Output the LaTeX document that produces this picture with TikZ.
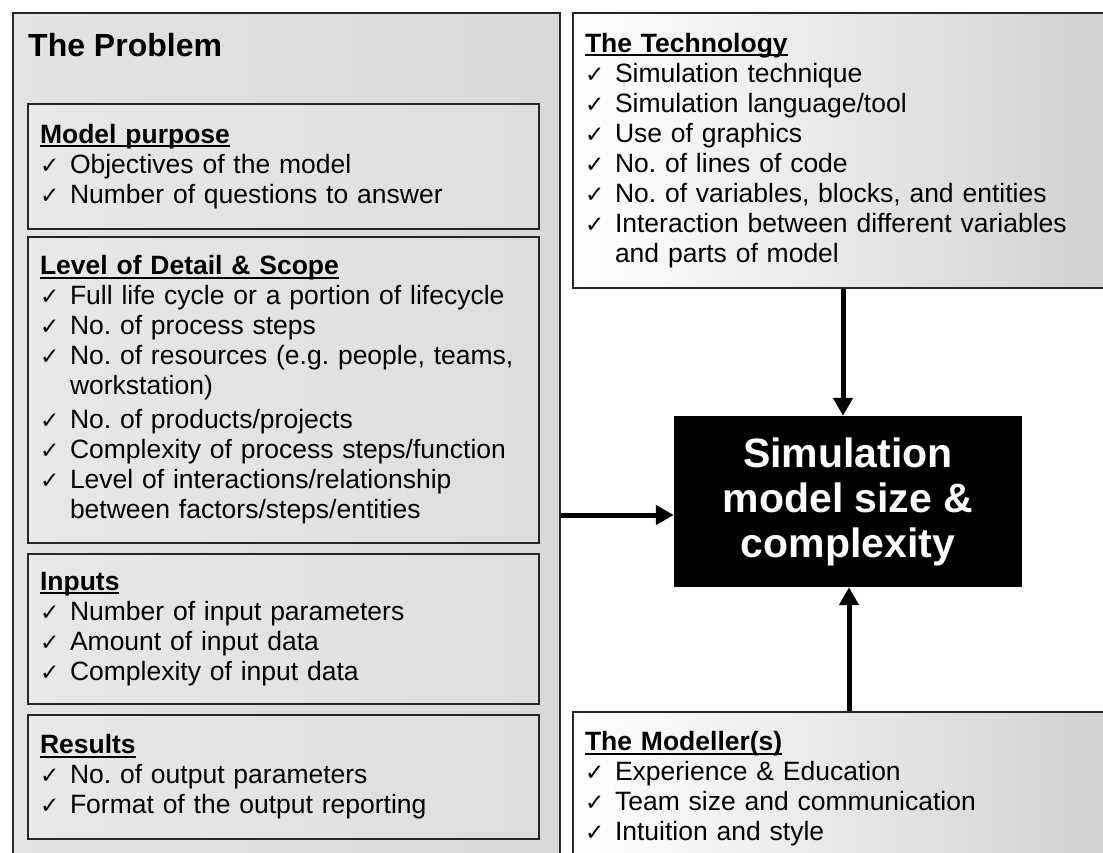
\documentclass[tikz,border=0pt]{standalone}
\usepackage{fontspec}
\setmainfont{Liberation Sans}
\newfontfamily\checkfont{DejaVu Sans}
\usetikzlibrary{positioning, arrows.meta}
\frenchspacing
\newcommand{\chk}{\makebox[30pt][l]{\checkfont\fontsize{23}{30}\selectfont ✓}}
\newcommand{\ind}{\hspace*{30pt}}
\newcommand{\hdr}[1]{\setbox0\hbox{\bfseries #1}\rlap{\rule[-4pt]{\wd0}{2.2pt}}\box0}

\begin{document}
\begin{tikzpicture}[x=1pt, y=-1pt,
    every node/.style={font=\fontsize{26.5}{30}\selectfont},
    outer/.style={draw=black!85, line width=2pt, anchor=north west,
                  left color=gray!22, middle color=gray!6, right color=gray!30},
    panel/.style={draw=black!85, line width=2pt, anchor=north west,
                  left color=gray!18, middle color=gray!3, right color=gray!26,
                  align=left, text width=487pt, inner xsep=12pt, minimum width=511pt},
    sidepanel/.style={panel, left color=white, middle color=gray!6, right color=gray!38,
                      text width=536pt, minimum width=560pt},
    core/.style={fill=black, text=white, align=center,
                 font=\fontsize{41}{45}\selectfont\bfseries,
                 minimum width=348pt, minimum height=171pt},
    flow/.style={-{Triangle[length=18pt,width=19pt]}, line width=5pt},
  ]
  \fill[white] (0,0) rectangle (1103,852);
  \useasboundingbox (0,0) rectangle (1103,852);
  \clip (0,0) rectangle (1103,852);

  % The Problem
  \node[outer, minimum width=547pt, minimum height=900pt] (problem) at (12,12) {};
  \node[anchor=base west, inner sep=0pt, font=\fontsize{32}{36}\selectfont\bfseries]
    (ptitle) at (28,56) {The Problem};

  \node[panel, minimum height=125pt] (purpose) at (27,103) {\hdr{Model purpose}\\
    \chk Objectives of the model\\
    \chk Number of questions to answer};
  \node[panel, minimum height=306pt] (detail) at (27,236) {\hdr{Level of Detail \& Scope}\\
    \chk Full life cycle or a portion of lifecycle\\
    \chk No. of process steps\\
    \chk No. of resources (e.g. people, teams,\\
    \ind workstation)\\[4pt]
    \chk No. of products/projects\\
    \chk Complexity of process steps/function\\
    \chk Level of interactions/relationship\\
    \ind between factors/steps/entities};
  \node[panel, minimum height=150pt] (inputs) at (27,553) {\hdr{Inputs}\\
    \chk Number of input parameters\\
    \chk Amount of input data\\
    \chk Complexity of input data};
  \node[panel, minimum height=124pt] (results) at (27,714) {\hdr{Results}\\
    \chk No. of output parameters\\
    \chk Format of the output reporting};

  % Right column
  \node[sidepanel, minimum height=275pt] (tech) at (572,12) {\hdr{The Technology}\\
    \chk Simulation technique\\
    \chk Simulation language/tool\\
    \chk Use of graphics\\
    \chk No. of lines of code\\
    \chk No. of variables, blocks, and entities\\
    \chk Interaction between different variables\\
    \ind and parts of model};
  \node[sidepanel, minimum height=154pt] (modeller) at (572,711) {\hdr{The Modeller(s)}\\
    \chk Experience \& Education\\
    \chk Team size and communication\\
    \chk Intuition and style};

  \node[core] (size) at (848,501.5) {Simulation\\model size \&\\complexity};

  % Connectors
  \coordinate (hin) at ([yshift=-13.5pt]size.west);
  \coordinate (tin) at ([xshift=-5pt]size.north);
  \coordinate (min) at ([xshift=1pt]size.south);
  \draw[flow] (hin -| problem.east) -- (hin);
  \draw[flow] (tin |- tech.south) -- (tin);
  \draw[flow] (min |- modeller.north) -- (min);
\end{tikzpicture}
\end{document}
